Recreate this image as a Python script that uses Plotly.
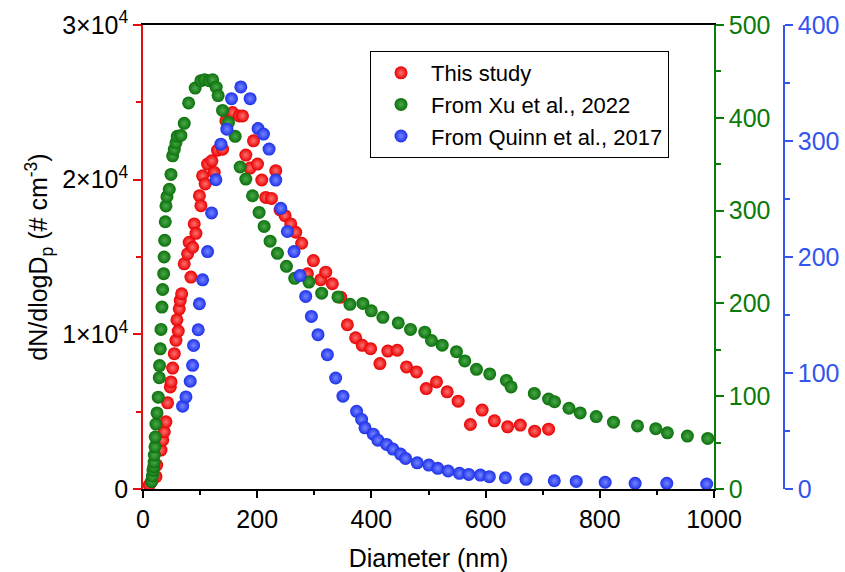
import plotly.graph_objects as go

# ---------------- data ----------------
red_x = [11, 15, 22.7, 24, 31.5, 34.4, 37.3, 40.2, 43.1, 47.8, 49, 51.9, 54.8, 57.7, 59.4, 61.7,
         63.5, 65.2, 67.7, 72.2, 78.1, 80.9, 83.9, 86.9, 89.7, 92.7, 98.8, 101.4, 104.4, 108.9,
         113.1, 120.6, 124.7, 130.6, 139.3, 145.1, 156.8, 168.5, 174.3, 180.1, 187.6, 193.5,
         200.5, 208, 215, 225, 232.5, 240, 248.8, 258.7, 267.5, 277.9, 288, 298.4, 311.2, 320,
         331.6, 346.2, 357.9, 372.4, 384, 398.6, 414.9, 428.8, 445.3, 461.5, 479, 496, 514,
         532.7, 551.9, 573.4, 593.9, 615.4, 638.6, 660.8, 685.9, 710.3]
red_y = [258, 500, 795, 1548, 2516, 3160, 3700, 4340, 5570, 6600, 6920, 7820, 8750, 9610, 10940,
         10210, 11650, 12190, 12620, 14560, 15200, 15950, 13700, 15630, 17140, 16530, 18960,
         18320, 20250, 19720, 21010, 21220, 20470, 21910, 21970, 23800, 24340, 24120, 24120,
         21590, 20750, 22510, 21010, 19980, 18850, 18790, 20580, 18040, 17670, 17140, 16600,
         15890, 13910, 14770, 13530, 14020, 13270, 12400, 10620, 9780, 9290, 9070, 8110, 8920,
         8970, 7890, 7570, 6490, 6920, 6280, 5680, 4170, 5100, 4410, 4020, 4130, 3740, 3870]

green_x = [15, 16.5, 17.5, 18.7, 19.5, 19.8, 21, 21.5, 22.7, 24.5, 26.7, 28.5, 29, 30.3, 31.5,
           33.2, 34.4, 36.2, 37, 38, 39, 40.2, 42, 46, 49, 51.9, 54.8, 57.7, 60, 66.4, 72.2,
           79.9, 91.4, 101.4, 108, 115.9, 122, 128.1, 131.6, 139.3, 149.7, 161.4, 170.1, 180.1,
           191.8, 203.3, 212.1, 222.6, 235.5, 251.2, 265.7, 290.7, 312.9, 341.4, 362.4, 385.1,
           399.8, 420.1, 447, 468.5, 493.5, 505.2, 524, 549, 563.5, 584, 607.2, 636.4, 644.6,
           685.3, 710.3, 720.8, 746, 765.7, 793.7, 824, 866, 898, 918.4, 953.4, 989]
green_y = [8, 14, 20, 24, 29, 36.6, 45.5, 56, 70, 82, 99, 120, 133, 151, 172, 196, 215, 232, 250,
           268, 288, 305, 315, 323, 339, 359, 366, 373, 380, 381, 394, 416, 432, 440, 441, 440,
           441, 433, 424, 408, 395, 380, 347, 334, 316, 298, 283, 267, 254, 240, 227, 223, 211,
           207, 199, 200, 192, 185, 179, 172, 169, 160, 155, 148, 138, 129, 124, 117, 110, 103,
           97, 94, 87, 82, 78, 72, 68, 65, 60.5, 57, 54.5]

blue_x = [69.4, 75.2, 82.7, 86.9, 88.6, 96.7, 98.8, 104.4, 113.1, 120.1, 127.6, 136.4, 146.9, 155,
          171.3, 187.6, 201.6, 211, 220.8, 232.5, 241.3, 252.9, 264.5, 275, 285, 294.9, 306.5,
          322.9, 337.4, 350.2, 374.1, 382.9, 388.8, 403.3, 411.4, 426.6, 437.6, 451, 459.8,
          480.2, 500.5, 516.3, 534.4, 554.2, 570.5, 590.9, 606.6, 634.6, 670.8, 720.3, 758.7,
          809.4, 861.9, 917.3, 987.2]
blue_y = [71.4, 79.4, 92.9, 106.6, 123.8, 137.3, 159.7, 180.3, 204.7, 238, 266.6, 297.3, 310.2,
          336.5, 346.6, 336.5, 310.7, 306, 293, 266.3, 242, 222, 204.7, 184, 166, 148.8, 133,
          115.8, 95.7, 80, 67, 60, 52.7, 47.3, 42.1, 38.4, 34.4, 30.1, 26.4, 22.6, 20.6, 17.8,
          15.5, 13.5, 12.6, 12, 10.6, 9.7, 8.3, 7.1, 6.5, 5.8, 4.9, 4.9, 4.3]

names = ["This study", "From Xu et al., 2022", "From Quinn et al., 2017"]
left_tickvals = [0, 10000, 20000, 30000]
left_ticktext = ["0", "1×10<sup>4</sup>", "2×10<sup>4</sup>", "3×10<sup>4</sup>"]

RED, GREEN, BLUE = "#e80000", "#0b700b", "#1c30ea"
RED_AX, GREEN_AX, BLUE_AX = "#e01010", "#0a7a0a", "#3355ee"
FONT = "Liberation Sans, Arial, sans-serif"

W, H = 845, 572
L, R, T, B = 143, 61, 25, 83
paper_w = W - L - R
plot_h = H - T - B


def mk(color, light):
    return dict(size=13, color=color, line=dict(width=0),
                gradient=dict(type="radial", color=light))


fig = go.Figure()
fig.add_trace(go.Scatter(x=red_x, y=red_y, mode="markers", name=names[0],
                         marker=mk(RED, "#ff7070"), yaxis="y"))
fig.add_trace(go.Scatter(x=green_x, y=green_y, mode="markers", name=names[1],
                         marker=mk(GREEN, "#4aa84a"), yaxis="y2"))
fig.add_trace(go.Scatter(x=blue_x, y=blue_y, mode="markers", name=names[2],
                         marker=mk(BLUE, "#7585ff"), yaxis="y3"))

TS = 25

fig.update_layout(
    width=W, height=H,
    margin=dict(l=L, r=R, t=T, b=B, autoexpand=False),
    paper_bgcolor="white", plot_bgcolor="white",
    font=dict(family=FONT, color="black"),
    showlegend=True,
    legend=dict(x=(370 - L) / paper_w, y=1 - (51 - T) / plot_h, xanchor="left", yanchor="top",
                bordercolor="black", borderwidth=1, bgcolor="white",
                font=dict(family=FONT, size=22, color="black"),
                itemwidth=50),
    xaxis=dict(domain=[0, (714 - L) / paper_w], range=[0, 1000], dtick=200, tick0=0,
               showline=True, linecolor="black", linewidth=1.5, mirror=True,
               ticks="outside", ticklen=7, tickwidth=1.5, tickcolor="black",
               minor=dict(dtick=100, ticks="outside", ticklen=4, tickwidth=1.5, tickcolor="black"),
               showgrid=False, zeroline=False, tickfont=dict(family=FONT, size=TS),
               automargin=False,
               title=dict(text="Diameter (nm)", font=dict(family=FONT, size=25), standoff=28)),
    yaxis=dict(range=[0, 30000], tickvals=left_tickvals, ticktext=left_ticktext,
               showline=True, linecolor=RED_AX, linewidth=1.5,
               ticks="outside", ticklen=8, tickwidth=1.5, tickcolor=RED_AX,
               minor=dict(dtick=5000, ticks="outside", ticklen=5, tickwidth=1.5, tickcolor=RED_AX),
               showgrid=False, zeroline=False, tickfont=dict(family=FONT, size=TS, color="black"),
               automargin=False,
               title=dict(text="dN/dlogD<sub>p</sub> (# cm<sup>-3</sup>)",
                          font=dict(family=FONT, size=25), standoff=7)),
    yaxis2=dict(range=[0, 500], dtick=100, overlaying="y", side="right", anchor="x",
                showline=True, linecolor=GREEN_AX, linewidth=1.5,
                ticks="outside", ticklen=8, tickwidth=1.5, tickcolor=GREEN_AX,
                minor=dict(dtick=50, ticks="outside", ticklen=5, tickwidth=1.5, tickcolor=GREEN_AX),
                showgrid=False, zeroline=False, automargin=False,
                tickfont=dict(family=FONT, size=TS, color=GREEN_AX)),
    yaxis3=dict(range=[0, 400], dtick=100, overlaying="y", side="right", anchor="free",
                position=1.0,
                showline=True, linecolor=BLUE_AX, linewidth=1.5,
                ticks="outside", ticklen=8, tickwidth=1.5, tickcolor=BLUE_AX,
                minor=dict(dtick=50, ticks="outside", ticklen=5, tickwidth=1.5, tickcolor=BLUE_AX),
                showgrid=False, zeroline=False, automargin=False,
                tickfont=dict(family=FONT, size=TS, color=BLUE_AX)),
)

fig.write_html("out.html", config={"displayModeBar": False},
               post_script="document.body.style.margin='0';")
